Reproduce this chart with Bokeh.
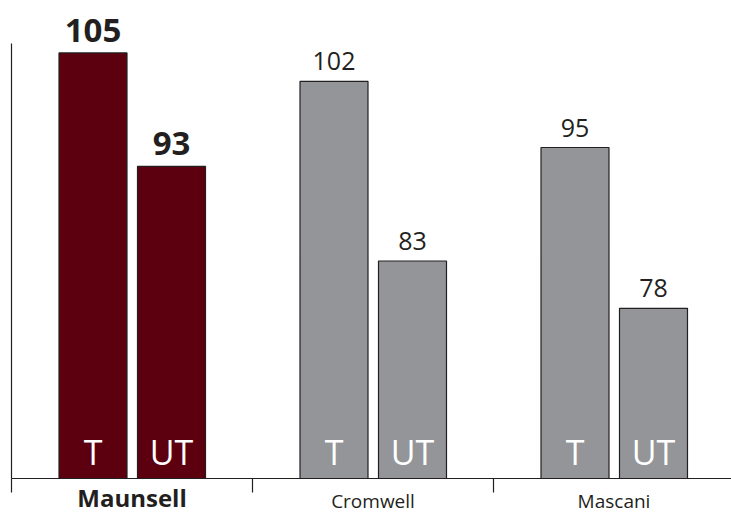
from bokeh.plotting import figure
from bokeh.models import ColumnDataSource, FixedTicker, Range1d
from bokeh.embed import file_html
from bokeh.resources import INLINE
from bokeh.core.properties import value

# ---- data ----
groups = ["Maunsell", "Cromwell", "Mascani"]
series = ["T", "UT"]
t_values = [105, 102, 95]
ut_values = [93, 83, 78]
highlight = "Maunsell"

# ---- layout / styling ----
W, H = 731, 513
AXIS_X_PX = 11          # pixel of the left axis
BASE_PX = 478           # pixel of the baseline
GROUP_PX = 241          # pixel width of one group
Y0, Y1 = 60, 106        # value axis extent
PPU = (BASE_PX - 43) / (Y1 - Y0)

x_start = -AXIS_X_PX / GROUP_PX
x_end = (W - AXIS_X_PX) / GROUP_PX
y_end = Y0 + BASE_PX / PPU
y_start = Y0 - (H - BASE_PX) / PPU

OFFSETS = [81.5 / GROUP_PX, 160 / GROUP_PX]
BAR_W = 68 / GROUP_PX
FONT = "Open Sans"
INK = "#231f20"
HIGHLIGHT_COLOR = "#5c0010"
OTHER_COLOR = "#939598"

# the svg text baseline sits lower than requested by about this share of the font size
SHIFT = 0.36


def px(n):
    return n / PPU


VAL_HL, VAL_N = 33, 25
INNER_FS = 34
CAT_HL, CAT_N = 24, 19
CAT_DROP_HL, CAT_DROP_N = 28, 29

p = figure(width=W, height=H, output_backend="svg", toolbar_location=None,
           x_range=Range1d(x_start, x_end), y_range=Range1d(y_start, y_end),
           min_border=0, min_border_left=0, min_border_right=0,
           min_border_top=0, min_border_bottom=0)

p.grid.visible = False
p.outline_line_color = None
p.background_fill_color = "white"
p.border_fill_color = "white"

xa = p.xaxis[0]
xa.fixed_location = Y0
xa.bounds = (0, x_end)
xa.ticker = FixedTicker(ticks=[0, 1, 2, 3])
xa.major_tick_in = 0
xa.major_tick_out = 14
xa.minor_tick_in = 0
xa.minor_tick_out = 0
xa.major_label_text_color = None
xa.major_label_standoff = 0
xa.axis_line_color = INK
xa.axis_line_width = 1.2
xa.major_tick_line_color = INK
xa.major_tick_line_width = 1.2

ya = p.yaxis[0]
ya.fixed_location = 0
ya.bounds = (Y0, Y1)
ya.ticker = FixedTicker(ticks=[])
ya.major_tick_in = 0
ya.major_tick_out = 0
ya.minor_tick_in = 0
ya.minor_tick_out = 0
ya.major_label_text_color = None
ya.major_label_standoff = 0
ya.axis_line_color = INK
ya.axis_line_width = 1.2

for i, g in enumerate(groups):
    hl = (g == highlight)
    vals = [t_values[i], ut_values[i]]
    vfs = VAL_HL if hl else VAL_N
    cfs = CAT_HL if hl else CAT_N
    drop = CAT_DROP_HL if hl else CAT_DROP_N
    src = ColumnDataSource(dict(
        x=[i + o for o in OFFSETS],
        top=vals,
        label_y=[v + px(11 + SHIFT * vfs) for v in vals],
        label=[str(v) for v in vals],
        series=series,
    ))
    p.vbar(x="x", top="top", bottom=Y0, width=BAR_W, source=src,
           fill_color=HIGHLIGHT_COLOR if hl else OTHER_COLOR,
           line_color=INK, line_width=1.2)
    p.text(x="x", y="label_y", text="label", source=src,
           text_align="center", text_baseline="alphabetic",
           text_font=value(FONT),
           text_font_size=f"{vfs}px",
           text_font_style="bold" if hl else "normal",
           text_color=INK)
    p.text(x="x", y=Y0 + px(14 + SHIFT * INNER_FS), text="series", source=src,
           text_align="center", text_baseline="alphabetic",
           text_font=value(FONT), text_font_size=f"{INNER_FS}px",
           text_color="white")
    gsrc = ColumnDataSource(dict(x=[i + 0.5], name=[g]))
    p.text(x="x", y=Y0 - px(drop - SHIFT * cfs), text="name", source=gsrc,
           text_align="center", text_baseline="alphabetic",
           text_font=value(FONT),
           text_font_size=f"{cfs}px",
           text_font_style="bold" if hl else "normal",
           text_color=INK)

open("out.html", "w").write(file_html(p, INLINE))
